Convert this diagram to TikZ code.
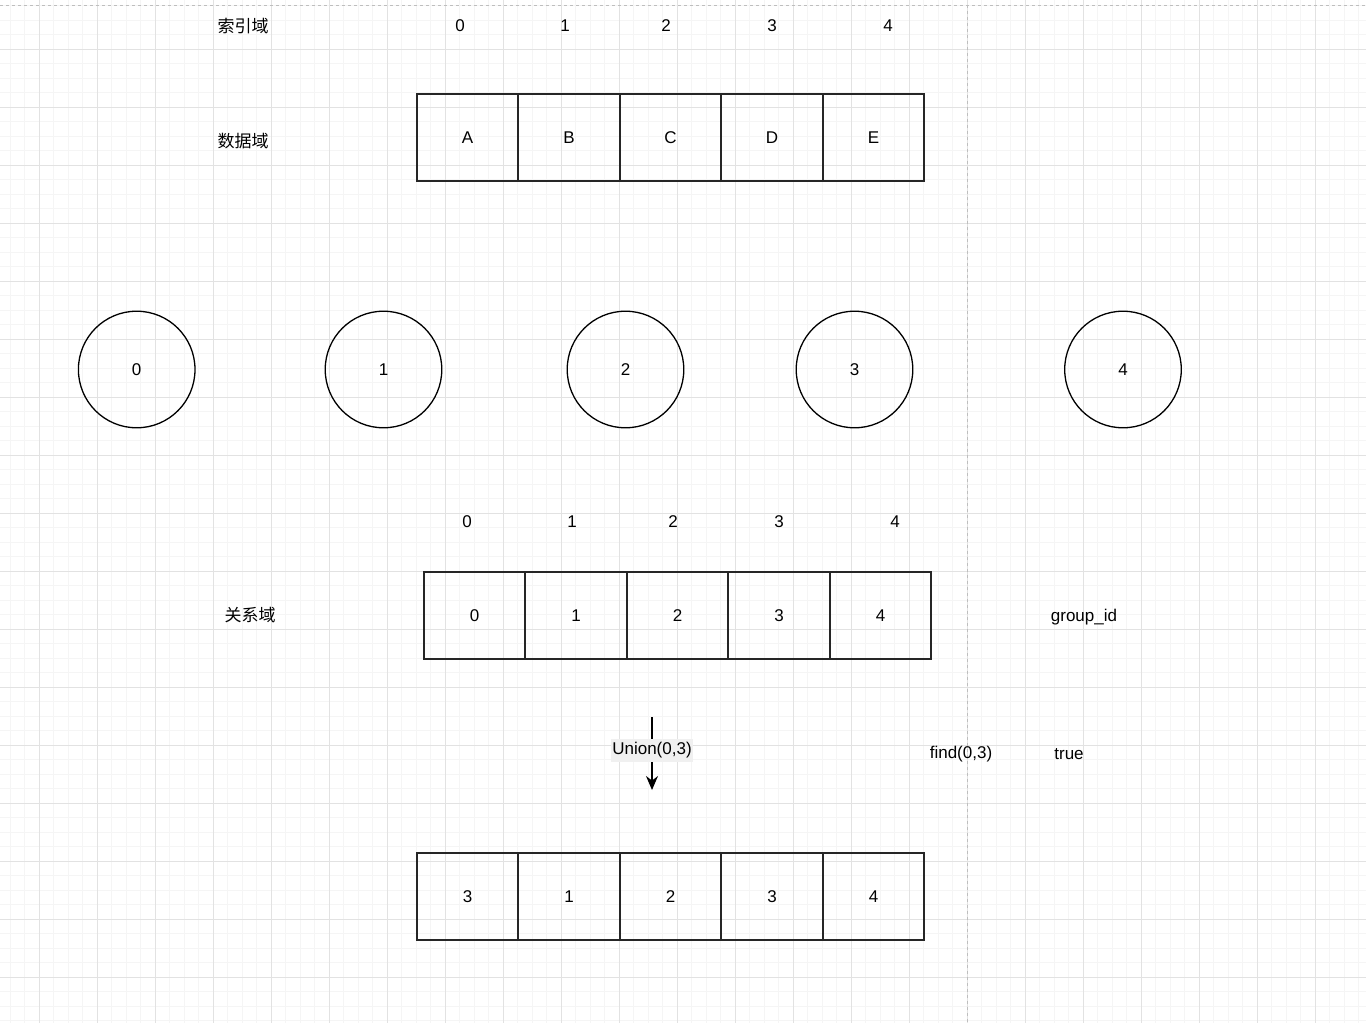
\documentclass[tikz,border=0pt]{standalone}
\usepackage{fontspec}
\setmainfont{Liberation Sans}
\newfontfamily\cjkfont{Noto Sans CJK SC}
\usetikzlibrary{arrows.meta, positioning}
\definecolor{GridMinor}{RGB}{245, 245, 245}
\definecolor{GridMajor}{RGB}{226, 226, 226}
\definecolor{PageLine}{RGB}{190, 190, 190}
\definecolor{LabelGray}{RGB}{240, 240, 240}

\begin{document}
\begin{tikzpicture}[x=1pt, y=-1pt,
        every node/.style={font=\fontsize{17}{20}\selectfont, inner sep=0pt},
        cell/.style={draw=black!85, line width=2pt, minimum width=101.5pt, minimum height=87pt},
        vertex/.style={circle, draw=black, line width=1.3pt, minimum size=116.6pt},
        tag/.style={font=\fontsize{17}{20}\selectfont\cjkfont}]

        \useasboundingbox (0,0) rectangle (1366,1023);
        \fill[white] (0,0) rectangle (1366,1023);

        % --- background grid ---
        \foreach \k in {-2,...,91}
            \draw[GridMinor, line width=0.8pt] ({39.3+14.5*\k},0) -- ++(0,1023);
        \foreach \k in {-3,...,67}
            \draw[GridMinor, line width=0.8pt] (0,{49.3+14.5*\k}) -- ++(1366,0);
        \foreach \k in {0,...,22}
            \draw[GridMajor, line width=0.8pt] ({39.3+58*\k},0) -- ++(0,1023);
        \foreach \k in {0,...,16}
            \draw[GridMajor, line width=0.8pt] (0,{49.3+58*\k}) -- ++(1366,0);

        % page borders
        \draw[PageLine, dashed, line width=0.8pt] (0,5.3) -- (1366,5.3);
        \draw[PageLine, dashed, line width=0.8pt] (967.3,5.3) -- (967.3,1023);

        % --- index row and data row ---
        \node[tag] (idxtag) at (243,26) {索引域};
        \node[tag] (datatag) at (243,141) {数据域};
        \foreach \i/\x in {0/460,1/565,2/666,3/772,4/888}
            \node (idx\i) at (\x,25.5) {\i};
        \foreach \i/\t in {0/A,1/B,2/C,3/D,4/E}
            \node[cell] (d\i) at ({467.5+101.5*\i},137.5) {\t};

        % --- elements ---
        \foreach \i/\x in {0/136.7,1/383.5,2/625.5,3/854.5,4/1123}
            \node[vertex] (v\i) at (\x,369.5) {\i};

        % --- relation row ---
        \node[tag] (reltag) at (250,615) {关系域};
        \node (gid) at (1084,617) {group\_id};
        \foreach \i/\x in {0/467,1/572,2/673,3/779,4/895}
            \node (ridx\i) at (\x,522) {\i};
        \foreach \i in {0,...,4}
            \node[cell] (r\i) at ({474.5+101.5*\i},615.5) {\i};

        % --- union step ---
        \coordinate (ustart) at (652,717);
        \coordinate (uend) at (652,790);
        \draw[-{Stealth[length=14pt, width=12pt]}, line width=1.3pt] (ustart) -- (uend)
            node[pos=0.46, fill=LabelGray, inner xsep=1.5pt, inner ysep=3.5pt] (unionlbl) {Union(0,3)};

        \node (findlbl) at (961,754.5) {find(0,3)};
        \node (truelbl) at (1069,754) {true};

        \foreach \i/\t in {0/3,1/1,2/2,3/3,4/4}
            \node[cell] (u\i) at ({467.5+101.5*\i},896.5) {\t};

\end{tikzpicture}
\end{document}
